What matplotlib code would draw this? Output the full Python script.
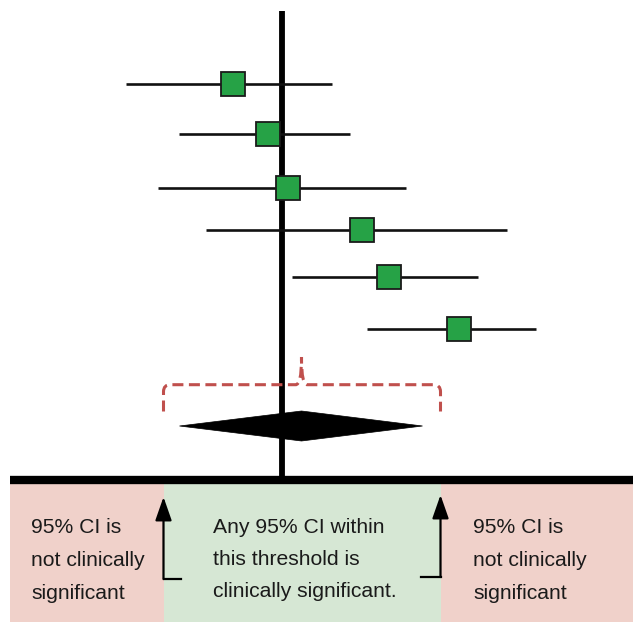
import matplotlib
matplotlib.use("Agg")
import matplotlib.pyplot as plt
from matplotlib.patches import Rectangle, Polygon, PathPatch
from matplotlib.path import Path

# ---------------- data (effect units, 0 = line of no effect) ----------------
estimates = [-0.49, -0.14, 0.06, 0.80, 1.07, 1.77]
ci_lower = [-1.56, -1.03, -1.24, -0.76, 0.10, 0.85]
ci_upper = [0.50, 0.68, 1.24, 2.25, 1.96, 2.54]
pooled_est = 0.20
pooled_lower = -1.02
pooled_upper = 1.41
threshold_lower = -1.18
threshold_upper = 1.59

zone_labels = ["95% CI is\nnot clinically\nsignificant",
               "Any 95% CI within\nthis threshold is\nclinically significant.",
               "95% CI is\nnot clinically\nsignificant"]

# ---------------- layout ----------------
W, H = 633, 623
DPI = 100
XMIN, XMAX = -2.815, 3.515          # 100 px per effect unit
row_y = [83.5, 134, 187.5, 229.5, 276.5, 328.5]
diamond_y, diamond_half_h = 426, 15
bracket_y, bracket_top, bracket_end_y = 384.7, 357, 411.5
base_y = 479.5
shade_top, shade_bot = 484, 622
left_edge = XMIN + 10 / 100

fig = plt.figure(figsize=(W / DPI, H / DPI), dpi=DPI)
ax = fig.add_axes([0, 0, 1, 1])
ax.set_xlim(XMIN, XMAX)
ax.set_ylim(H, 0)
ax.axis("off")

pink = "#F0D1CA"
green = "#D6E7D4"
red = "#C0504D"
sq_green = "#26A246"

# shaded zones
ax.add_patch(Rectangle((left_edge, shade_top), threshold_lower - left_edge, shade_bot - shade_top,
                       facecolor=pink, edgecolor="none", zorder=0))
ax.add_patch(Rectangle((threshold_lower, shade_top), threshold_upper - threshold_lower, shade_bot - shade_top,
                       facecolor=green, edgecolor="none", zorder=0))
ax.add_patch(Rectangle((threshold_upper, shade_top), XMAX - threshold_upper, shade_bot - shade_top,
                       facecolor=pink, edgecolor="none", zorder=0))

# baseline and line of no effect
ax.plot([left_edge, XMAX], [base_y, base_y], color="black", lw=6, solid_capstyle="butt", zorder=3)
ax.plot([0, 0], [11, base_y], color="black", lw=4.2, solid_capstyle="butt", zorder=2)

# studies
for est, lo, hi, y in zip(estimates, ci_lower, ci_upper, row_y):
    ax.plot([lo, hi], [y, y], color="#111111", lw=1.9, solid_capstyle="butt", zorder=3)
    ax.plot([est], [y], marker="s", markersize=17.4, markerfacecolor=sq_green,
            markeredgecolor="#1a1a1a", markeredgewidth=1.3, zorder=4)

# pooled diamond
ax.add_patch(Polygon([(pooled_lower, diamond_y), (pooled_est, diamond_y - diamond_half_h),
                      (pooled_upper, diamond_y), (pooled_est, diamond_y + diamond_half_h)],
                     closed=True, facecolor="black", edgecolor="black", lw=0.5, zorder=3))

# dashed bracket over the threshold
r = 7
cx = pooled_est
verts = [
    (threshold_lower, bracket_end_y),
    (threshold_lower, bracket_y + r), (threshold_lower, bracket_y), (threshold_lower + r / 100, bracket_y),
    (cx - 0.06, bracket_y),
    (cx - 0.02, bracket_y), (cx, bracket_y - 8), (cx, bracket_top),
    (cx, bracket_y - 8), (cx + 0.02, bracket_y), (cx + 0.06, bracket_y),
    (threshold_upper - r / 100, bracket_y),
    (threshold_upper, bracket_y), (threshold_upper, bracket_y + r),
    (threshold_upper, bracket_end_y),
]
codes = [Path.MOVETO,
         Path.LINETO, Path.CURVE3, Path.CURVE3,
         Path.LINETO,
         Path.CURVE4, Path.CURVE4, Path.CURVE4,
         Path.CURVE4, Path.CURVE4, Path.CURVE4,
         Path.LINETO,
         Path.CURVE3, Path.CURVE3,
         Path.LINETO]
ax.add_patch(PathPatch(Path(verts, codes), facecolor="none", edgecolor=red, lw=2.2,
                       linestyle=(0, (3.6, 1.8)), capstyle="butt", zorder=5))

# threshold arrows
arrow_kw = dict(arrowstyle="-|>,head_length=0.4,head_width=0.14", color="black",
                lw=1.6, mutation_scale=36, shrinkA=0, shrinkB=0)
ax.annotate("", xy=(threshold_lower, 497), xytext=(threshold_lower, 579), arrowprops=arrow_kw, zorder=4)
ax.plot([threshold_lower, threshold_lower + 0.175], [579, 579], color="black", lw=1.6, zorder=4)
ax.annotate("", xy=(threshold_upper, 495), xytext=(threshold_upper, 577), arrowprops=arrow_kw, zorder=4)
ax.plot([threshold_upper - 0.195, threshold_upper], [577, 577], color="black", lw=1.6, zorder=4)

# zone texts
font = dict(family=["Liberation Sans", "DejaVu Sans"], size=15.2, color="#1a1a1a")
text_x = [XMIN + 31 / 100, XMIN + 213 / 100, XMIN + 473 / 100]
baselines = [[533, 566, 599], [533, 565, 597], [533, 566, 599]]
for label, tx, bl in zip(zone_labels, text_x, baselines):
    for line, by in zip(label.split("\n"), bl):
        ax.text(tx, by, line, ha="left", va="baseline", zorder=6, **font)

fig.savefig("out.png", dpi=DPI)
